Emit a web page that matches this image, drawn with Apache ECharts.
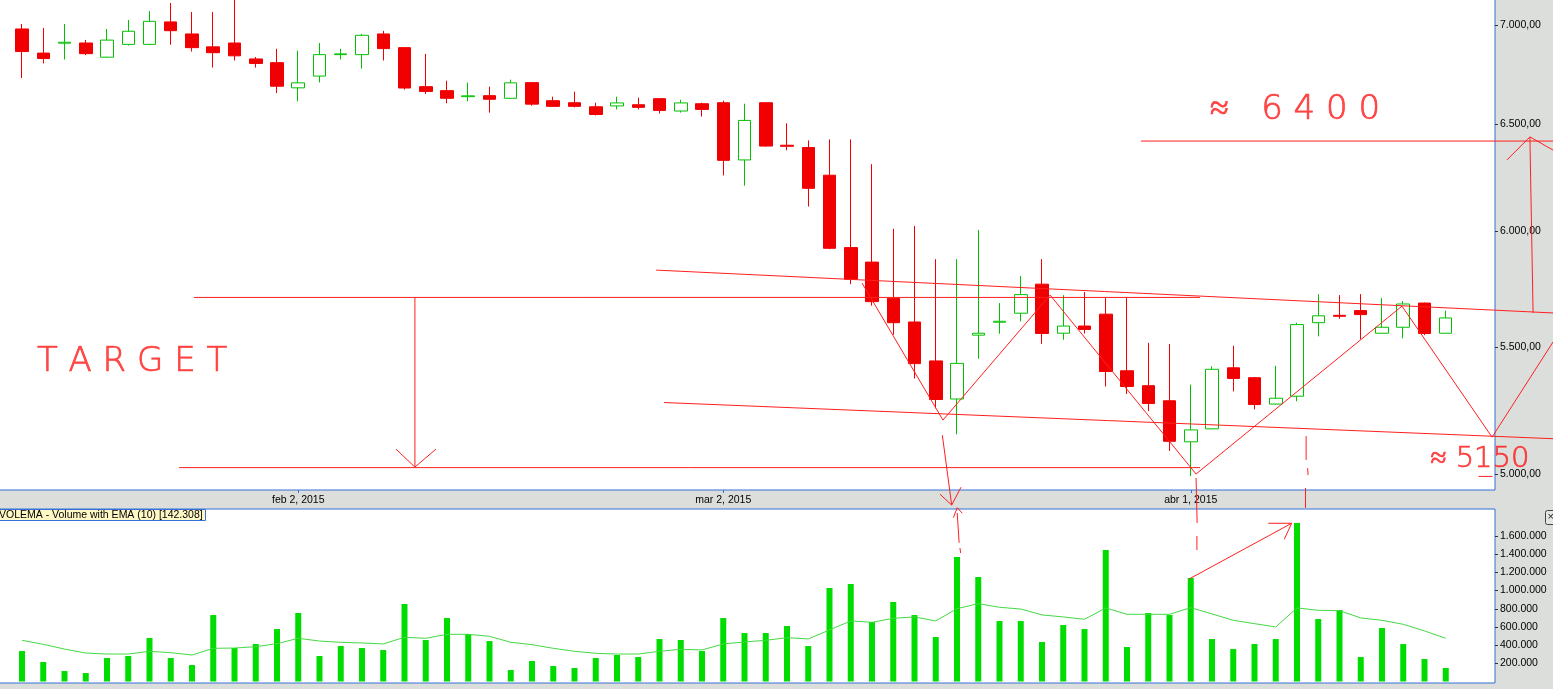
<!DOCTYPE html>
<html>
<head>
<meta charset="utf-8">
<title>VOLEMA</title>
<script src="https://cdn.jsdelivr.net/npm/echarts@6/dist/echarts.min.js"></script>
<style>
  html, body { margin: 0; padding: 0; background: #dcdedb; }
  #chart { width: 1553px; height: 689px; }
</style>
</head>
<body>
<div id="chart"></div>
<script>
// trading days (weekdays) from 14 jan 2015
const monthNames = ['ene', 'feb', 'mar', 'abr'];
const dates = [];
for (let d = new Date(2015, 0, 14); dates.length < 68; d.setDate(d.getDate() + 1)) {
  if (d.getDay() === 0 || d.getDay() === 6) continue;
  dates.push(monthNames[d.getMonth()] + ' ' + d.getDate() + ', 2015');
}

const open  = [6979, 6854, 6905, 6906, 6833, 6899, 6899, 7016, 6953, 6886,
               6906, 6824, 6805, 6678, 6737, 6846, 6846, 6953, 6882, 6684,
               6664, 6634, 6639, 6626, 6704, 6614, 6604, 6584, 6588, 6594,
               6624, 6563, 6599, 6604, 6327, 6604, 6397, 6386, 6255, 5925,
               5861, 5705, 5604, 5443, 5290, 5549, 5603, 5641, 5765, 5557,
               5587, 5637, 5403, 5343, 5283, 5123, 5173, 5415, 5375, 5270,
               5301, 5601, 5632, 5652, 5557, 5582, 5684, 5557];
const high  = [7005, 6984, 7005, 6922, 6979, 7026, 7073, 7116, 7068, 7068,
               7140, 6834, 6876, 6866, 6906, 6876, 6953, 6969, 6885, 6850,
               6714, 6704, 6684, 6719, 6706, 6634, 6659, 6604, 6634, 6629,
               6627, 6619, 6604, 6614, 6599, 6606, 6503, 6420, 6425, 6425,
               6307, 6009, 6022, 5874, 5874, 6004, 5684, 5800, 5874, 5718,
               5731, 5705, 5705, 5517, 5512, 5347, 5421, 5505, 5378, 5423,
               5601, 5722, 5718, 5722, 5705, 5692, 5686, 5652];
const low   = [6727, 6801, 6821, 6844, 6830, 6893, 6895, 6897, 6862, 6780,
               6816, 6780, 6652, 6611, 6705, 6821, 6775, 6816, 6669, 6647,
               6601, 6611, 6555, 6624, 6589, 6584, 6581, 6541, 6571, 6571,
               6551, 6555, 6536, 6254, 6206, 6390, 6373, 6110, 5918, 5765,
               5673, 5551, 5372, 5253, 5152, 5452, 5555, 5606, 5513, 5530,
               5556, 5340, 5310, 5242, 5088, 4993, 5172, 5320, 5249, 5268,
               5281, 5544, 5617, 5532, 5556, 5536, 5549, 5557];
const close = [6862, 6826, 6910, 6851, 6921, 6967, 7019, 6970, 6882, 6856,
               6840, 6801, 6686, 6703, 6846, 6850, 6946, 6877, 6677, 6660,
               6626, 6638, 6621, 6703, 6597, 6586, 6586, 6546, 6603, 6581,
               6566, 6603, 6571, 6325, 6517, 6393, 6392, 6194, 5922, 5786,
               5690, 5601, 5432, 5288, 5433, 5557, 5607, 5720, 5556, 5587,
               5573, 5400, 5340, 5272, 5125, 5169, 5409, 5372, 5268, 5293,
               5593, 5630, 5628, 5635, 5582, 5680, 5556, 5621];

const volume = [335000, 214000, 115000, 93000, 258000, 280000, 478000, 258000, 181000, 731000,
                368000, 412000, 577000, 753000, 280000, 390000, 368000, 346000, 852000, 456000,
                698000, 522000, 445000, 126000, 225000, 170000, 148000, 258000, 291000, 269000,
                467000, 456000, 335000, 698000, 533000, 533000, 610000, 390000, 1028000, 1072000,
                654000, 874000, 731000, 489000, 1369000, 1149000, 665000, 665000, 434000, 621000,
                577000, 1446000, 379000, 753000, 731000, 1138000, 467000, 357000, 412000, 467000,
                1743000, 687000, 786000, 269000, 588000, 412000, 247000, 148000];
const volumeEma = [453000, 409000, 357000, 313000, 302000, 302000, 332000, 317000, 291000, 365000,
                   368000, 383000, 416000, 475000, 445000, 431000, 424000, 413000, 486000, 475000,
                   519000, 519000, 497000, 431000, 405000, 365000, 332000, 310000, 302000, 302000,
                   332000, 354000, 347000, 413000, 435000, 453000, 482000, 468000, 567000, 666000,
                   651000, 695000, 710000, 666000, 801000, 856000, 816000, 797000, 732000, 710000,
                   684000, 809000, 739000, 739000, 739000, 812000, 743000, 673000, 636000, 600000,
                   809000, 783000, 779000, 699000, 673000, 629000, 556000, 475000];

const priceTicks = [5000, 5500, 6000, 6500, 7000];
const volumeTicks = [200000, 400000, 600000, 800000, 1000000, 1200000, 1400000, 1600000];

// hand drawn red marks, in [day index, price] units
const priceMarks = [
  [[8.09, 5708], [55.44, 5708]],
  [[18.49, 5708], [18.49, 5027]],
  [[17.60, 5095], [18.49, 5027], [19.48, 5095]],
  [[7.39, 5025], [55.44, 5025]],
  [[29.84, 5826], [72.05, 5642]],
  [[30.21, 5276], [72.05, 5135]],
  [[39.53, 5770], [43.34, 5207], [48.38, 5718], [55.25, 5001], [64.94, 5671], [69.18, 5141], [72.05, 5521]],
  [[52.66, 6417], [72.05, 6417]],
  [[71.11, 5642], [70.96, 6437]],
  [[69.88, 6327], [70.96, 6437], [72.05, 6374]],
  [[43.31, 5149], [43.75, 4886]],
  [[43.20, 4926], [43.75, 4886], [44.19, 4952]],
  [[55.25, 4986], [55.30, 4821]],
  [[60.43, 5145], [60.43, 5054]],
  [[60.50, 5023], [60.52, 4997]],
  [[60.40, 4949], [60.40, 4876]],
  [[68.54, 4992], [69.20, 4992]]
];
// same, in [day index, volume] units
const volumeMarks = [
  [[44.10, 1526000], [44.01, 1853000]],
  [[43.83, 1801000], [44.01, 1911000], [44.25, 1850000]],
  [[44.14, 1468000], [44.17, 1413000]],
  [[55.29, 1600000], [55.29, 1446000]],
  [[54.92, 1127000], [59.75, 1740000]],
  [[58.65, 1740000], [59.75, 1740000]],
  [[59.40, 1564000], [59.75, 1740000]]
];
const notes = [
  [5.18, 5438, 'T A R G E T', 34],
  [59.91, 6568, '≈   6 4 0 0', 34],
  [68.61, 5054, '≈ 5150', 29]
];

const blue = '#3570d8';
const red = '#ff1f1f';
const axisFont = { fontFamily: 'Liberation Sans', fontSize: 10.5, color: '#000' };

function groupDigits(v) {
  return Math.round(v).toString().replace(/\B(?=(\d{3})+(?!\d))/g, '.');
}

const monthStarts = dates
  .map((d, i) => (i > 0 && d.slice(0, 3) !== dates[i - 1].slice(0, 3) ? i : -1))
  .filter(i => i >= 0);

// day index i sits at 22 + 21.25 * i px, plot spans -3 .. 1495 px
const xMin = -25 / 21.25;
const xMax = xMin + 1498 / 21.25;

const chart = echarts.init(document.getElementById('chart'));

const option = {
  animation: false,
  backgroundColor: '#dcdedb',
  title: {
    text: 'VOLEMA - Volume with EMA (10) [142.308]',
    left: -4,
    top: 509,
    padding: [1, 3, 0, 3],
    backgroundColor: '#fff7c4',
    borderColor: blue,
    borderWidth: 1,
    textStyle: { fontFamily: 'Liberation Sans', fontSize: 10.5, fontWeight: 'normal', color: '#000' }
  },
  grid: [
    { left: -3, right: 58, top: -3, height: 493, outerBoundsMode: 'none', containLabel: false,
      show: true, backgroundColor: '#fff', borderColor: blue, borderWidth: 1 },
    { left: -3, right: 58, top: 509, height: 174, outerBoundsMode: 'none', containLabel: false,
      show: true, backgroundColor: '#fff', borderColor: blue, borderWidth: 1 }
  ],
  xAxis: [
    {
      type: 'value', gridIndex: 0, min: xMin, max: xMax,
      axisLine: { show: false, onZero: false },
      splitLine: { show: false },
      axisTick: { show: true, customValues: monthStarts, length: 3, lineStyle: { color: blue } },
      axisLabel: Object.assign({ customValues: monthStarts, margin: 5, formatter: v => dates[Math.round(v)] }, axisFont)
    },
    {
      type: 'value', gridIndex: 1, min: xMin, max: xMax,
      axisLine: { show: false, onZero: false }, splitLine: { show: false },
      axisTick: { show: false }, axisLabel: { show: false }
    }
  ],
  yAxis: [
    {
      type: 'log', logBase: 10, gridIndex: 0, position: 'right', min: 4941.5, max: 7148,
      axisLine: { show: false, onZero: false },
      splitLine: { show: false },
      axisTick: { show: true, customValues: priceTicks, length: 3, lineStyle: { color: '#333' } },
      axisLabel: Object.assign({ customValues: priceTicks, margin: 5, formatter: v => groupDigits(v) + ',00' }, axisFont)
    },
    {
      type: 'value', gridIndex: 1, position: 'right', min: -16500, max: 1897000,
      axisLine: { show: false, onZero: false },
      splitLine: { show: false },
      axisTick: { show: true, customValues: volumeTicks, length: 3, lineStyle: { color: '#333' } },
      axisLabel: Object.assign({ customValues: volumeTicks, margin: 5, formatter: v => groupDigits(v) }, axisFont)
    }
  ],
  graphic: [
    {
      type: 'group', left: 1545, top: 510,
      children: [
        { type: 'rect', shape: { x: 0, y: 0, width: 11, height: 14, r: 2 }, style: { fill: '#e4e4e4', stroke: '#444', lineWidth: 1 } },
        { type: 'text', style: { x: 2, y: 1, text: '×', fill: '#222', font: '11px Liberation Sans' } }
      ]
    }
  ],
  series: [
    {
      name: 'Precio',
      type: 'candlestick',
      xAxisIndex: 0, yAxisIndex: 0,
      barWidth: 13,
      encode: { x: 0, y: [1, 2, 3, 4] },
      data: dates.map((d, i) => [i, open[i], close[i], low[i], high[i]]),
      itemStyle: {
        color: '#ffffff', color0: '#f00000',
        borderColor: '#00c000', borderColor0: '#f00000',
        borderWidth: 1
      }
    },
    {
      name: 'Volume',
      type: 'bar',
      xAxisIndex: 1, yAxisIndex: 1,
      barWidth: 6,
      data: dates.map((d, i) => [i, volume[i]]),
      itemStyle: { color: '#00dc00' }
    },
    {
      name: 'EMA (10)',
      type: 'line',
      xAxisIndex: 1, yAxisIndex: 1,
      symbol: 'none',
      data: dates.map((d, i) => [i, volumeEma[i]]),
      lineStyle: { color: '#44d944', width: 1 },
      z: 3
    },
    {
      type: 'lines', coordinateSystem: 'cartesian2d',
      xAxisIndex: 0, yAxisIndex: 0,
      polyline: true, clip: false, silent: true, z: 6,
      lineStyle: { color: red, width: 1, opacity: 1 },
      data: priceMarks.map(c => ({ coords: c }))
    },
    {
      type: 'lines', coordinateSystem: 'cartesian2d',
      xAxisIndex: 1, yAxisIndex: 1,
      polyline: true, clip: false, silent: true, z: 6,
      lineStyle: { color: red, width: 1, opacity: 1 },
      data: volumeMarks.map(c => ({ coords: c }))
    },
    {
      type: 'scatter',
      xAxisIndex: 0, yAxisIndex: 0,
      symbolSize: 1, silent: true, clip: false, z: 7,
      itemStyle: { color: 'rgba(0,0,0,0)' },
      label: {
        show: true, position: 'inside',
        color: red, fontFamily: 'DejaVu Sans', fontWeight: 200,
        textBorderColor: red, textBorderWidth: 0.7,
        formatter: p => p.data.text
      },
      data: notes.map(n => ({ value: [n[0], n[1]], text: n[2], label: { fontSize: n[3] } }))
    }
  ]
};

chart.setOption(option);
</script>
</body>
</html>
